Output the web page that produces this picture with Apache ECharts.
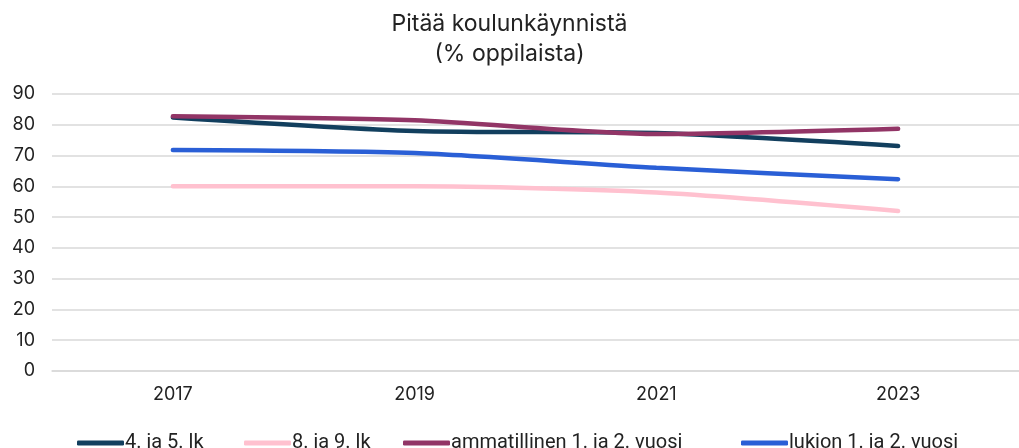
<!DOCTYPE html>
<html>
<head>
<meta charset="utf-8">
<script src="https://cdn.jsdelivr.net/npm/echarts@6/dist/echarts.min.js"></script>
<style>
  html, body { margin: 0; padding: 0; background: #fff; }
  #chart { width: 1019px; height: 448px; }
</style>
</head>
<body>
<div id="chart"></div>
<script>
// vuodet
const years = ["2017", "2019", "2021", "2023"];
// sarjat (% oppilaista)
const lk45 = [82.4, 78.0, 77.3, 73.1];
const lk89 = [60.0, 60.0, 58.0, 52.0];
const ammatillinen = [82.8, 81.5, 77.0, 78.7];
const lukio = [71.8, 70.8, 66.0, 62.3];
const yTicks = [0, 10, 20, 30, 40, 50, 60, 70, 80, 90];

const names = ["4. ja 5. lk", "8. ja 9. lk", "ammatillinen 1. ja 2. vuosi", "lukion 1. ja 2. vuosi"];
const colors = ["#123f5e", "#ffc1cf", "#923566", "#2a5fd6"];
// legendan kohdat
const legendLeft = [72, 239, 398, 736];

const myChart = echarts.init(document.getElementById("chart"));

function line(name, data, color) {
  return {
    name: name,
    type: "line",
    data: data,
    smooth: 0.25,
    symbol: "none",
    lineStyle: { width: 4.5, color: color, cap: "round" },
    itemStyle: { color: color },
  };
}

function legend(i) {
  return {
    data: [names[i]],
    bottom: -10,
    left: legendLeft[i],
    icon: "roundRect",
    itemWidth: 47,
    itemHeight: 5,
    itemGap: 0,
    textStyle: {
      fontFamily: "Roboto",
      fontSize: 20,
      color: "#222",
      padding: [0, 0, 0, -4],
    },
  };
}

const options = {
  animation: false,
  title: {
    text: "Pitää koulunkäynnistä\n(% oppilaista)",
    left: "center",
    top: 4,
    textStyle: {
      fontFamily: "Inter",
      fontWeight: "normal",
      fontSize: 23,
      lineHeight: 30,
      color: "#222",
    },
  },
  legend: [legend(0), legend(1), legend(2), legend(3)],
  grid: {
    left: 52,
    width: 978,
    top: 94,
    bottom: 77,
  },
  xAxis: {
    type: "category",
    data: years,
    boundaryGap: true,
    axisLine: { lineStyle: { color: "#d9d9d9", width: 1.5 } },
    axisTick: { show: false },
    axisLabel: {
      fontFamily: "Inter",
      fontSize: 18,
      color: "#222",
      margin: 15,
    },
  },
  yAxis: {
    type: "value",
    min: yTicks[0],
    max: yTicks[yTicks.length - 1],
    interval: 10,
    axisLine: { show: false },
    axisTick: { show: false },
    splitLine: { lineStyle: { color: "#d9d9d9", width: 1.5 } },
    axisLabel: {
      fontFamily: "Inter",
      fontSize: 18,
      color: "#222",
      margin: 17,
    },
  },
  series: [
    line(names[0], lk45, colors[0]),
    line(names[1], lk89, colors[1]),
    line(names[2], ammatillinen, colors[2]),
    line(names[3], lukio, colors[3]),
  ],
};

myChart.setOption(options);
</script>
</body>
</html>
